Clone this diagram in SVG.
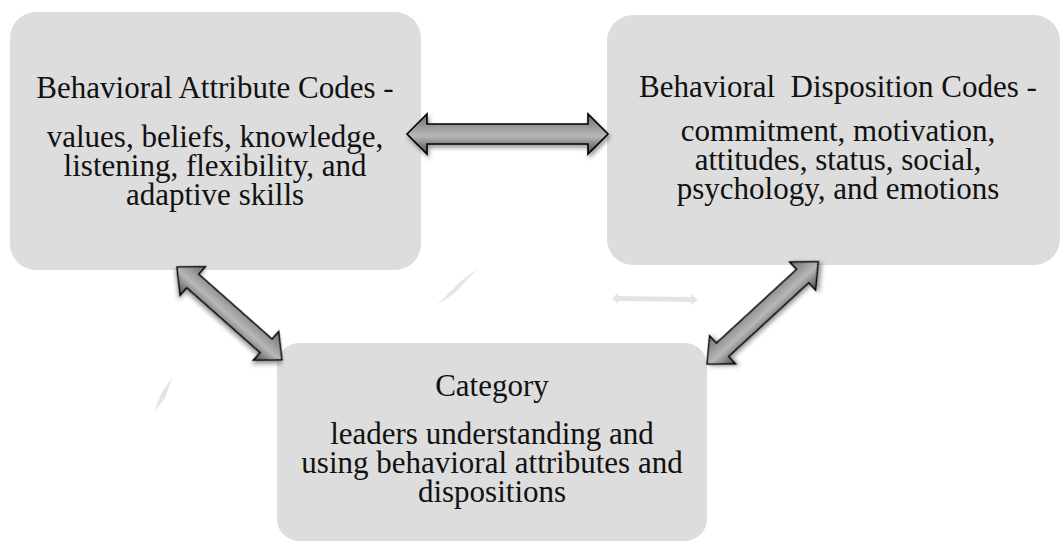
<svg xmlns="http://www.w3.org/2000/svg" width="1061" height="542" viewBox="0 0 1061 542">
  <defs>
    <style>
      .box { fill: #dddddd; }
      .txt { font-family: "Liberation Serif", "Times New Roman", serif; font-size: 31px; fill: #111111; text-anchor: middle; }
      .arrow { fill: url(#arrowFill); stroke: #000000; stroke-width: 1.6; stroke-linejoin: miter; filter: url(#shadow); }
      .ghost { fill: #e4e4e4; stroke: none; }
    </style>
    <!-- shading runs across the width of the arrow -->
    <linearGradient id="arrowFill" x1="0" y1="0" x2="0" y2="1">
      <stop offset="0" stop-color="#6e6e6e"/>
      <stop offset="0.55" stop-color="#b8b8b8"/>
      <stop offset="1" stop-color="#4a4a4a"/>
    </linearGradient>
    <filter id="shadow" x="-20%" y="-40%" width="140%" height="180%">
      <feDropShadow dx="1.5" dy="3" stdDeviation="2.2" flood-color="#000000" flood-opacity="0.4"/>
    </filter>
  </defs>

  <!-- faint background marks -->
  <g id="marks">
    <path class="ghost" d="M612,298 L618,293 L618,296 L691,297 L691,294 L698,300 L691,305 L691,302 L618,301 L618,304 Z"/>
    <path class="ghost" d="M437,305 L460,282 L478,268 L456,292 Z"/>
    <path class="ghost" d="M154,412 L162,392 L172,378 L165,398 Z"/>
  </g>

  <g id="node-attributes">
    <rect class="box" x="10" y="12" width="411" height="258" rx="26" ry="26"/>
    <text class="txt" x="215" y="98">Behavioral Attribute Codes -</text>
    <text class="txt" x="215" y="147">values, beliefs, knowledge,</text>
    <text class="txt" x="215" y="176">listening, flexibility, and</text>
    <text class="txt" x="215" y="205">adaptive skills</text>
  </g>

  <g id="node-dispositions">
    <rect class="box" x="607" y="15" width="453" height="250" rx="26" ry="26"/>
    <text class="txt" x="838" y="97" xml:space="preserve">Behavioral  Disposition Codes -</text>
    <text class="txt" x="838" y="141">commitment, motivation,</text>
    <text class="txt" x="838" y="170">attitudes, status, social,</text>
    <text class="txt" x="838" y="199">psychology, and emotions</text>
  </g>

  <g id="node-category">
    <rect class="box" x="277" y="343" width="430" height="198" rx="22" ry="22"/>
    <text class="txt" x="492" y="396">Category</text>
    <text class="txt" x="492" y="444">leaders understanding and</text>
    <text class="txt" x="492" y="473">using behavioral attributes and</text>
    <text class="txt" x="492" y="502">dispositions</text>
  </g>

  <g id="connectors">
    <!-- attributes <-> dispositions -->
    <path class="arrow" transform="translate(407,134)" d="M0,0 L20,-20 L20,-10 L181,-10 L181,-20 L201,0 L181,20 L181,10 L20,10 L20,20 Z"/>
    <!-- attributes <-> category -->
    <path class="arrow" transform="translate(177,267) rotate(41.5)" d="M0,0 L21,-19 L21,-9 L119,-9 L119,-19 L140,0 L119,19 L119,9 L21,9 L21,19 Z"/>
    <!-- dispositions <-> category -->
    <path class="arrow" transform="translate(707,364) rotate(-42.6)" d="M0,0 L21,-19 L21,-9 L130,-9 L130,-19 L151,0 L130,19 L130,9 L21,9 L21,19 Z"/>
  </g>
</svg>
